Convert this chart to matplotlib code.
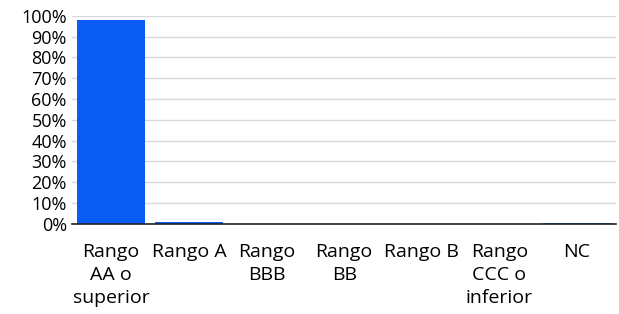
import matplotlib.pyplot as plt
from matplotlib.ticker import PercentFormatter

categories = ["Rango\nAA o\nsuperior", "Rango A", "Rango\nBBB", "Rango\nBB",
              "Rango B", "Rango\nCCC o\ninferior", "NC"]
values = [98.0, 1.0, 0.0, 0.0, 0.0, 0.0, 0.5]

plt.rcParams['font.family'] = ['Open Sans', 'DejaVu Sans']

fig, ax = plt.subplots(figsize=(6.19, 3.14), dpi=100)
fig.subplots_adjust(left=0.117, right=0.995, top=0.95, bottom=0.287)

x = range(len(categories))
ax.bar(x, values, width=0.88, color="#0A5CF5", zorder=3)

ax.set_ylim(0, 100)
ax.set_xlim(-0.5, len(categories) - 0.5)
ax.set_yticks(range(0, 101, 10))
ax.yaxis.set_major_formatter(PercentFormatter(decimals=0))
ax.grid(axis="y", color="#d9d9d9", linewidth=1, zorder=0)
ax.set_xticks(list(x))
ax.set_xticklabels(categories, fontsize=14, linespacing=1.35, va="top")
ax.tick_params(axis="y", labelsize=13, length=0, pad=4)
ax.tick_params(axis="x", length=0, pad=14)

for s in ["top", "right", "left"]:
    ax.spines[s].set_visible(False)
ax.spines["bottom"].set_color("#222222")
ax.spines["bottom"].set_linewidth(1.2)
ax.spines["bottom"].set_zorder(4)

fig.savefig("out.png", dpi=100)
